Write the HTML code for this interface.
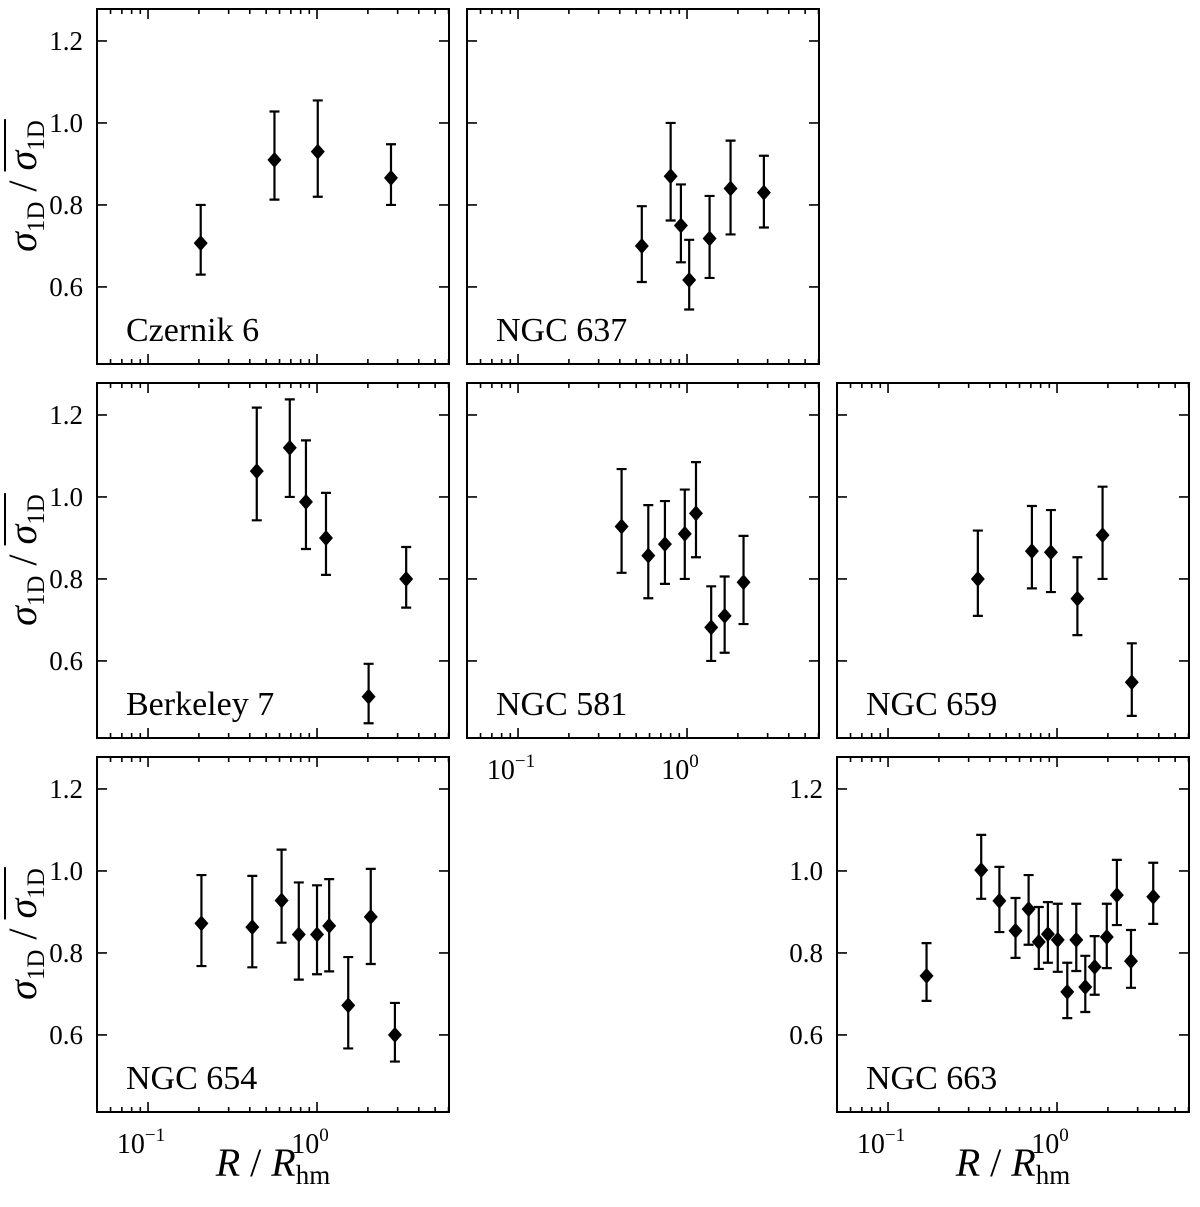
<!DOCTYPE html>
<html><head><meta charset="utf-8"><style>
body{margin:0;background:#fff}
</style></head><body>
<svg id="fig" width="1200" height="1202" xmlns="http://www.w3.org/2000/svg" font-family="'Liberation Serif', 'DejaVu Serif', serif">
</svg>
<script>
// ---- data ----
const czernikR=[0.205,0.56,1.01,2.74];
const czernikS=[0.707,0.91,0.93,0.866];
const czernikLo=[0.63,0.813,0.82,0.80];
const czernikHi=[0.80,1.028,1.055,0.948];

const n637R=[0.54,0.80,0.92,1.03,1.36,1.81,2.85];
const n637S=[0.70,0.87,0.75,0.617,0.718,0.84,0.83];
const n637Lo=[0.612,0.762,0.66,0.545,0.622,0.728,0.745];
const n637Hi=[0.797,1.0,0.85,0.715,0.822,0.957,0.92];

const berkR=[0.44,0.69,0.86,1.13,2.02,3.37];
const berkS=[1.063,1.12,0.988,0.9,0.513,0.80];
const berkLo=[0.943,1.0,0.873,0.81,0.448,0.73];
const berkHi=[1.218,1.238,1.138,1.01,0.593,0.878];

const n581R=[0.41,0.59,0.74,0.97,1.13,1.39,1.67,2.16];
const n581S=[0.928,0.857,0.885,0.91,0.96,0.682,0.71,0.792];
const n581Lo=[0.815,0.753,0.788,0.80,0.853,0.60,0.62,0.69];
const n581Hi=[1.068,0.98,0.99,1.018,1.085,0.782,0.806,0.905];

const n659R=[0.34,0.71,0.92,1.32,1.86,2.77];
const n659S=[0.80,0.868,0.865,0.752,0.907,0.548];
const n659Lo=[0.71,0.777,0.768,0.663,0.80,0.466];
const n659Hi=[0.918,0.978,0.968,0.853,1.025,0.643];

const n654R=[0.207,0.414,0.617,0.78,1.0,1.18,1.53,2.08,2.89];
const n654S=[0.872,0.863,0.928,0.845,0.845,0.866,0.672,0.888,0.60];
const n654Lo=[0.768,0.765,0.825,0.735,0.748,0.755,0.567,0.773,0.535];
const n654Hi=[0.99,0.988,1.052,0.972,0.965,0.98,0.79,1.005,0.678];

const n663R=[0.169,0.356,0.456,0.568,0.679,0.78,0.883,1.01,1.15,1.30,1.47,1.67,1.97,2.26,2.74,3.71];
const n663S=[0.744,1.002,0.927,0.854,0.907,0.827,0.846,0.832,0.705,0.832,0.717,0.766,0.839,0.941,0.78,0.937];
const n663Lo=[0.683,0.932,0.851,0.788,0.82,0.761,0.776,0.754,0.641,0.756,0.656,0.698,0.763,0.868,0.715,0.871];
const n663Hi=[0.824,1.088,1.01,0.934,0.99,0.912,0.924,0.92,0.776,0.92,0.793,0.841,0.92,1.027,0.856,1.02];

const yTicks=[0.6,0.8,1.0,1.2];
const yTickLabels=["0.6","0.8","1.0","1.2"];

// ---- layout ----
const NS="http://www.w3.org/2000/svg";
const svg=document.getElementById('fig');
const FF="'Liberation Serif', 'DejaVu Serif', serif";
const XMIN=-1.302,XMAX=0.781,YMIN=0.412,YMAX=1.278;
const PW=352,PH=355;
function mk(tag,attrs,parent){const e=document.createElementNS(NS,tag);for(const k in attrs)e.setAttribute(k,attrs[k]);(parent||svg).appendChild(e);return e;}

const panels=[
 {name:'czernik-6',label:'Czernik 6',x:97,y:9,R:czernikR,S:czernikS,Lo:czernikLo,Hi:czernikHi,yl:true,xl:false},
 {name:'ngc-637',label:'NGC 637',x:467,y:9,R:n637R,S:n637S,Lo:n637Lo,Hi:n637Hi,yl:false,xl:false},
 {name:'berkeley-7',label:'Berkeley 7',x:97,y:383,R:berkR,S:berkS,Lo:berkLo,Hi:berkHi,yl:true,xl:false},
 {name:'ngc-581',label:'NGC 581',x:467,y:383,R:n581R,S:n581S,Lo:n581Lo,Hi:n581Hi,yl:false,xl:true},
 {name:'ngc-659',label:'NGC 659',x:837,y:383,R:n659R,S:n659S,Lo:n659Lo,Hi:n659Hi,yl:false,xl:false},
 {name:'ngc-654',label:'NGC 654',x:97,y:757,R:n654R,S:n654S,Lo:n654Lo,Hi:n654Hi,yl:true,xl:true},
 {name:'ngc-663',label:'NGC 663',x:837,y:757,R:n663R,S:n663S,Lo:n663Lo,Hi:n663Hi,yl:true,xl:true}
];

panels.forEach(p=>{
  const g=mk('g',{});
  
  
  const sx=v=>p.x+(Math.log10(v)-XMIN)/(XMAX-XMIN)*PW;
  const sy=v=>p.y+(YMAX-v)/(YMAX-YMIN)*PH;
  for(let d=-2;d<=1;d++){
    for(let m=1;m<=9;m++){
      const v=m*Math.pow(10,d);const lv=Math.log10(v);
      if(lv<XMIN||lv>XMAX)continue;
      const X=sx(v);const L=m===1?10:5;
      mk('line',{x1:X,x2:X,y1:p.y+PH,y2:p.y+PH-L,stroke:'#000','stroke-width':1.6},g);
      mk('line',{x1:X,x2:X,y1:p.y,y2:p.y+L,stroke:'#000','stroke-width':1.6},g);
      if(m===1&&p.xl){
        const t=mk('text',{x:X-7,y:p.y+PH+41,'font-size':28,'text-anchor':'middle','font-family':FF},g);
        
        
        t.textContent='10';
        const s=mk('tspan',{'font-size':19,dy:-12},t);s.textContent=(d===0?'0':'\u2212'+(-d));
      }
    }
  }
  yTicks.forEach((v,i)=>{
    const Y=sy(v);
    mk('line',{x1:p.x,x2:p.x+10,y1:Y,y2:Y,stroke:'#000','stroke-width':1.6},g);
    mk('line',{x1:p.x+PW,x2:p.x+PW-10,y1:Y,y2:Y,stroke:'#000','stroke-width':1.6},g);
    if(p.yl){
      const t=mk('text',{x:p.x-14,y:Y+9,'font-size':27,'text-anchor':'end','font-family':FF},g);
      
      
      t.textContent=yTickLabels[i];
    }
  });
  mk('rect',{x:p.x,y:p.y,width:PW,height:PH,fill:'none',stroke:'#000','stroke-width':2},g);
  const lab=mk('text',{x:p.x+29,y:p.y+PH-23,'font-size':34,'font-family':FF},g);
  
  
  lab.textContent=p.label;
  p.R.forEach((r,i)=>{
    const X=sx(r),Y=sy(p.S[i]),y1=sy(p.Hi[i]),y2=sy(p.Lo[i]);
    const eb=mk('path',{d:`M${X},${y1}V${y2}M${X-5},${y1}H${X+5}M${X-5},${y2}H${X+5}`,stroke:'#000','stroke-width':2.2,fill:'none'},g);
    
    
    const pt=mk('path',{d:`M${X},${Y-8}L${X+7},${Y}L${X},${Y+8}L${X-7},${Y}Z`,fill:'#000'},g);
    
    
  });
});

// y axis titles
[186,560,934].forEach(cy=>{
  const g=mk('g',{transform:`translate(36,${cy}) rotate(-90)`});
  
  
  const t=mk('text',{x:0,y:0,'font-size':40,'text-anchor':'middle','font-family':FF},g);
  const a=mk('tspan',{'font-style':'italic'},t);a.textContent='σ';
  const b=mk('tspan',{'font-size':25,dy:8},t);b.textContent='1D';
  const c=mk('tspan',{dy:-8},t);c.textContent=' / ';
  const d=mk('tspan',{'font-style':'italic'},t);d.textContent='σ';
  const e=mk('tspan',{'font-size':25,dy:8},t);e.textContent='1D';
  try{
    const s=t.getStartPositionOfChar(6).x, en=t.getEndPositionOfChar(8).x;
    mk('line',{x1:s-1,x2:en+1,y1:-31,y2:-31,stroke:'#000','stroke-width':2},g);
  }catch(err){}
});
[273,1013].forEach(cx=>{
  const t=mk('text',{x:cx,y:1176,'font-size':40,'text-anchor':'middle','font-family':FF});
  
  
  const a=mk('tspan',{'font-style':'italic'},t);a.textContent='R';
  const b=mk('tspan',{},t);b.textContent=' / ';
  const c=mk('tspan',{'font-style':'italic'},t);c.textContent='R';
  const d=mk('tspan',{'font-size':27,dy:8},t);d.textContent='hm';
});
</script>
</body></html>
